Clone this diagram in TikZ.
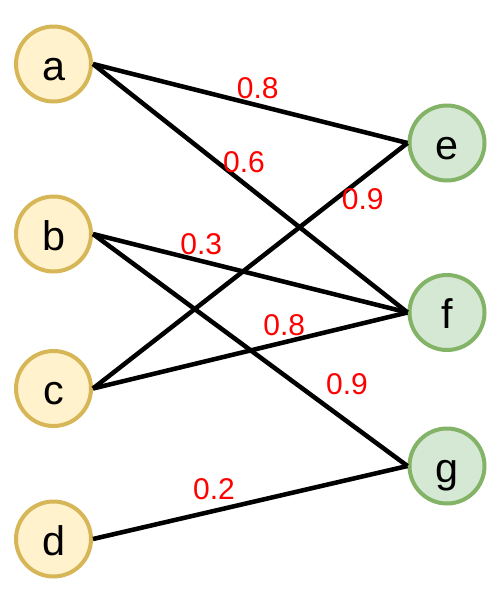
\documentclass[tikz,border=0pt]{standalone}
\usepackage{fontspec}
\setmainfont{Liberation Sans}
\definecolor{srcfill}{HTML}{FFF2CC}
\definecolor{srcdraw}{HTML}{D6B656}
\definecolor{tgtfill}{HTML}{D5E8D4}
\definecolor{tgtdraw}{HTML}{82B366}
\definecolor{wred}{HTML}{FF0000}
\begin{document}
\begin{tikzpicture}
  [x=0.75pt, y=-0.75pt,
    source/.style={%
      circle, draw=srcdraw, fill=srcfill, line width=3pt,
      minimum size=56.25pt, inner sep=0pt, text height=24pt, text depth=0pt,
      font=\fontsize{31}{31}\selectfont
    },
    target/.style={%
      source, draw=tgtdraw, fill=tgtfill
    },
    link/.style={draw=black, line width=3.4pt},
    weight/.style={%
      text=wred, font=\fontsize{22.5}{22.5}\selectfont
    },
  ]
  \useasboundingbox (0,0) rectangle (497,597);

  \node[source] (a) at (53.5,64) {a};
  \node[source] (b) at (53.5,234) {b};
  \node[source] (c) at (53.5,388.5) {c};
  \node[source] (d) at (53.5,539) {d};

  \node[target] (e) at (447,143) {e};
  \node[target] (f) at (447,312.5) {f};
  \node[target] (g) at (447,466) {g};

  \path[link]
  (a.east) edge node[weight, pos=.524, above] {0.8} (e.west)
           edge node[weight, pos=.48, above=3pt] {0.6} (f.west)
  (b.east) edge node[weight, pos=.344, above] {0.3} (f.west)
           edge node[weight, pos=.72, above right] {0.9} (g.west)
  (c.east) edge node[weight, pos=.77, right] {0.9} (e.west)
           edge node[weight, pos=.608, above] {0.8} (f.west)
  (d.east) edge node[weight, pos=.385, above=3pt] {0.2} (g.west);

\end{tikzpicture}
\end{document}
